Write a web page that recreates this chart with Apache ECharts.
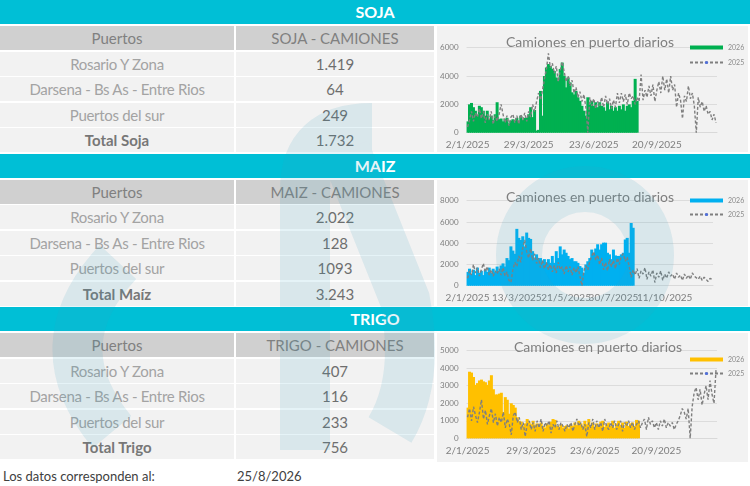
<!DOCTYPE html>
<html>
<head>
<meta charset="utf-8">
<script src="https://cdn.jsdelivr.net/npm/echarts@6/dist/echarts.min.js"></script>
<style>
  html, body { margin: 0; padding: 0; }
  body { width: 750px; height: 486px; position: relative; overflow: hidden; background: #fff; font-family: Lato, "Noto Sans", sans-serif; }
  .abs { position: absolute; box-sizing: border-box; white-space: nowrap; text-align: center; }
  .banner { background: #00bfd6; color: #fff; font-weight: 700; font-size: 16px; }
  .head { background: #d0d0d0; color: #808080; font-size: 15px; }
  .cell { background: #f2f2f2; font-size: 15px; }
  .lbl { color: #a3a3a3; letter-spacing: -0.3px; }
  .val { color: #6e6e6e; }
  .tot { color: #777; font-weight: 700; }
  .chart { position: absolute; left: 437px; width: 311px; }
  .foot { position: absolute; top: 468px; font-size: 13px; color: #404040; }
</style>
</head>
<body>
<script>
// tabla
const secciones = ['SOJA', 'MAIZ', 'TRIGO'];
const puertos = ['Rosario Y Zona', 'Darsena - Bs As - Entre Rios', 'Puertos del sur'];
const totales = ['Total Soja', 'Total Maíz', 'Total Trigo'];
const sojaCamiones = ['1.419', '64', '249', '1.732'];
const maizCamiones = ['2.022', '128', '1093', '3.243'];
const trigoCamiones = ['407', '116', '233', '756'];
const fechaDatos = '25/8/2026';

// series diarias (camiones en puerto)
const sojaTicks = ['2/1/2025', '29/3/2025', '23/6/2025', '20/9/2025'];
const sojaTickIdx = [0, 31, 64, 96];
const soja2026 = [
  800, 2000, 2100, 1800, 1550, 1200, 1900, 1800, 1550, 1200,
  1550, 950, 1200, 900, 1300, 2150, 950, 1000, 800, 950,
  1050, 650, 850, 950, 850, 1050, 800, 1200, 900, 1050,
  1050, 1300, 1800, 1100, 1600, 150, 200, 2950, 1200, 4000,
  4600, 4850, 4700, 4500, 4350, 3900, 3650, 4500, 4950, 4000,
  3200, 3900, 3550, 2850, 2700, 2950, 2500, 2250, 1900, 1550,
  1200, 2500, 2000, 2250, 1900, 2150, 1800, 2150, 1900, 1800,
  1550, 2150, 1650, 1900, 1550, 1800, 1550, 1900, 1650, 2000,
  1550, 1900, 2000, 1800, 2250, 3800, 2250
];
const soja2025 = [
  400, 900, 1500, 800, 1400, 1100, 1700, 1000, 1500, 700,
  1300, 900, 1500, 600, 1200, 800, 1300, 2000, 1300, 700,
  1200, 500, 1100, 1300, 700, 1200, 600, 1300, 900, 1400,
  800, 1500, 1100, 2000, 1500, 2200, 2800, 2300, 3000, 3800,
  4500, 5600, 4600, 4900, 4200, 4700, 3600, 4400, 5000, 4300,
  3600, 4000, 3300, 3700, 2800, 3200, 2500, 2900, 2200, 2700,
  1800, 0, 2500, 1900, 2400, 1700, 2200, 1900, 2500, 1800,
  2600, 2000, 2400, 1700, 2300, 1800, 2800, 2100, 2800, 2200,
  2700, 2000, 2800, 2400, 2600, 2000, 2500, 2200, 4100, 2300,
  3000, 2500, 3300, 2600, 3400, 2200, 3000, 3600, 2800, 4000,
  3000, 3800, 2800, 4000, 3000, 3400, 1800, 2800, 2300, 1000,
  2600, 2200, 3300, 2400, 2800, 1900, 0, 2500, 1800, 2200,
  1500, 1900, 1300, 1500, 900, 1300, 700
];

const maizTicks = ['2/1/2025', '13/3/2025', '21/5/2025', '30/7/2025', '11/10/2025'];
const maizTickIdx = [0, 25, 50, 74, 100];
const maiz2026 = [
  1300, 1600, 1100, 1500, 1000, 1700, 1200, 1400, 1000, 1500,
  1300, 1700, 1200, 1600, 1300, 1800, 1400, 1900, 2100, 1800,
  2600, 2400, 3700, 3300, 3000, 5350, 4500, 4300, 4650, 3700,
  5000, 4500, 4400, 3250, 2600, 2950, 2500, 2600, 2300, 2500,
  2150, 2500, 2150, 2800, 2150, 3250, 2600, 3700, 2950, 3400,
  3100, 2800, 2500, 2600, 2300, 2300, 2150, 1850, 1700, 1200,
  2000, 2300, 2600, 3400, 3100, 3500, 3900, 3400, 3900, 4050,
  4050, 3100, 2950, 2500, 3400, 2850, 2800, 2800, 2950, 3100,
  4350, 4500, 3100, 5900, 5450
];
const maiz2025 = [
  700, 1400, 1000, 2000, 1200, 1700, 900, 1500, 2100, 1300,
  1800, 1000, 1500, 900, 1400, 1100, 1600, 1000, 1700, 900,
  1300, 500, 300, 1500, 2200, 1800, 2800, 2200, 3600, 4300,
  3200, 2600, 3500, 2400, 3000, 2100, 2600, 1700, 2400, 1600,
  2200, 1500, 2000, 1300, 1900, 1200, 2200, 1500, 1800, 1100,
  1900, 1300, 1800, 1000, 1700, 1200, 1800, 900, 0, 1400,
  1900, 1500, 2300, 2800, 3200, 2400, 2900, 2000, 2600, 1500,
  2200, 1400, 2500, 1800, 2400, 1600, 2600, 2000, 2800, 3000,
  2300, 2700, 1800, 800, 1500, 1000, 1600, 700, 1400, 1100,
  1700, 600, 1300, 900, 1500, 300, 1200, 800, 1400, 500,
  1100, 700, 1300, 900, 1100, 600, 1200, 800, 1000, 500,
  1100, 700, 1000, 600, 1200, 900, 1000, 600, 900, 500,
  800, 600, 400, 700, 600
];

const trigoTicks = ['2/1/2025', '29/3/2025', '23/6/2025', '20/9/2025'];
const trigoTickIdx = [0, 32, 64, 95];
const trigo2026 = [
  1750, 3800, 3750, 3500, 3050, 3150, 3300, 3350, 3250, 3200,
  3050, 3300, 3600, 2800, 2500, 2500, 2550, 2600, 1500, 2350,
  2200, 1400, 2000, 1900, 1750, 1200, 1000, 950, 700, 850,
  1100, 900, 800, 1000, 750, 850, 650, 900, 700, 600,
  850, 750, 950, 1100, 1050, 700, 650, 800, 600, 700,
  750, 550, 800, 700, 900, 750, 1000, 850, 700, 1000,
  800, 1100, 700, 900, 650, 850, 700, 950, 1000, 650,
  800, 900, 700, 1000, 600, 850, 1000, 750, 900, 600,
  950, 700, 850, 900, 700, 1050, 1000
];
const trigo2025 = [
  1200, 1700, 1000, 1800, 1300, 900, 1500, 2200, 1100, 1600,
  800, 1300, 1700, 900, 1400, 700, 1200, 900, 1500, 600,
  1100, 800, 200, 1300, 1500, 900, 1200, 500, 900, 100,
  800, 1000, 500, 900, 400, 1000, 600, 1100, 400, 900,
  700, 1000, 300, 800, 600, 1000, 500, 900, 700, 400,
  800, 600, 900, 400, 800, 1100, 700, 900, 500, 800,
  100, 900, 600, 1100, 500, 1000, 600, 900, 400, 1100,
  700, 500, 900, 600, 1000, 500, 800, 1000, 400, 900,
  700, 1000, 600, 900, 500, 800, 1000, 600, 900, 1100,
  500, 1200, 800, 1000, 600, 900, 500, 1000, 700, 1100,
  600, 900, 700, 900, 500, 800, 1000, 1300, 1700, 1500,
  1100, 1700, 0, 1800, 2600, 2900, 2200, 2800, 1900, 2500,
  3000, 2200, 3300, 2500, 2000, 3900
];

const secTop = [0, 153.5, 307];
const valores = [sojaCamiones, maizCamiones, trigoCamiones];

function box(cls, left, top, width, height, text) {
    const d = document.createElement('div');
    d.className = 'abs ' + cls;
    d.style.left = left + 'px';
    d.style.top = top + 'px';
    d.style.width = width + 'px';
    d.style.height = height + 'px';
    d.style.lineHeight = height + 'px';
    d.textContent = text;
    document.body.appendChild(d);
    return d;
}

secciones.forEach((nombre, s) => {
    const t = secTop[s];
    box('banner', 0, t, 750, 24, nombre);
    box('head', 0, t + 26, 234, 24, 'Puertos');
    box('head', 236, t + 26, 198, 24, nombre + ' - CAMIONES');
    for (let k = 0; k < 4; k++) {
        const y = t + 51.5 + 25.6 * k;
        const etiqueta = k < 3 ? puertos[k] : totales[s];
        box('cell ' + (k < 3 ? 'lbl' : 'tot'), 0, y, 234, 24, etiqueta);
        box('cell val', 236, y, 198, 24, valores[s][k]);
    }
});

const f1 = document.createElement('div');
f1.className = 'foot'; f1.style.left = '3px'; f1.textContent = 'Los datos corresponden al:';
document.body.appendChild(f1);
const f2 = document.createElement('div');
f2.className = 'foot'; f2.style.left = '237px'; f2.textContent = fechaDatos;
document.body.appendChild(f2);

// graficos
function categorias(n, ticks, idx) {
    const c = [];
    for (let i = 0; i < n; i++) c.push('');
    idx.forEach((p, k) => { c[p] = ticks[k]; });
    return c;
}

function grafico(cfg) {
    const div = document.createElement('div');
    div.className = 'chart';
    div.style.top = cfg.top + 'px';
    div.style.height = cfg.height + 'px';
    document.body.appendChild(div);
    const chart = echarts.init(div);
    chart.setOption({
        animation: false,
        backgroundColor: '#f2f2f2',
        title: {
            text: 'Camiones en puerto diarios',
            left: cfg.titleLeft, top: cfg.titleTop,
            textStyle: { color: '#7f7f7f', fontSize: 14, fontWeight: 'normal', fontFamily: 'Lato' }
        },
        legend: {
            orient: 'vertical', left: 247, top: cfg.legendTop,
            itemWidth: 33, itemHeight: 4, itemGap: cfg.legendGap,
            textStyle: { color: '#8c8c8c', fontSize: 7, fontFamily: 'Lato' },
            data: [{ name: '2026', icon: 'rect' }, { name: '2025' }]
        },
        grid: { left: cfg.gridLeft, top: cfg.gridTop, width: cfg.line.length * 2, height: cfg.gridHeight },
        xAxis: {
            type: 'category',
            data: categorias(cfg.line.length, cfg.ticks, cfg.tickIdx),
            axisTick: { show: false },
            axisLine: { lineStyle: { color: '#d9d9d9' } },
            axisLabel: { interval: 0, color: '#7f7f7f', fontSize: 10, margin: 7, fontFamily: 'Lato' }
        },
        yAxis: {
            type: 'value', min: 0, max: cfg.max, interval: cfg.step,
            splitLine: { lineStyle: { color: '#dcdcdc' } },
            axisLabel: { color: '#7f7f7f', fontSize: 8, margin: 8, fontFamily: 'Lato', formatter: v => String(v) }
        },
        series: [
            {
                name: '2026', type: 'bar', data: cfg.bars,
                barWidth: 3,
                itemStyle: { color: cfg.color }
            },
            {
                name: '2025', type: 'line', data: cfg.line,
                symbol: 'none', z: 5,
                lineStyle: { color: '#7f7f7f', width: 1.4, type: [3, 2] }
            }
        ]
    });
}

grafico({ top: 26, height: 126, titleLeft: 64, titleTop: 4, legendTop: 13, legendGap: 8,
    gridLeft: 26, gridTop: 21.7, gridHeight: 85, max: 6000, step: 2000,
    ticks: sojaTicks, tickIdx: sojaTickIdx, bars: soja2026, line: soja2025, color: '#00b050' });
grafico({ top: 180, height: 126, titleLeft: 64, titleTop: 5, legendTop: 12, legendGap: 7,
    gridLeft: 26, gridTop: 20.7, gridHeight: 85, max: 8000, step: 2000,
    ticks: maizTicks, tickIdx: maizTickIdx, bars: maiz2026, line: maiz2025, color: '#00b0f0' });
grafico({ top: 333, height: 129, titleLeft: 72, titleTop: 2, legendTop: 18, legendGap: 7,
    gridLeft: 28, gridTop: 17.7, gridHeight: 87.6, max: 5000, step: 1000,
    ticks: trigoTicks, tickIdx: trigoTickIdx, bars: trigo2026, line: trigo2025, color: '#ffc000' });
</script>
<svg width="750" height="486" style="position:absolute;left:0;top:0;pointer-events:none;opacity:0.13">
  <g fill="none" stroke="#3c9fbf" stroke-width="50">
    <path d="M118 262 Q40 345 112 432"/>
    <path d="M305 450 L305 190 Q305 128 372 128"/>
    <path d="M345 150 L405 300 Q420 380 390 430"/>
    <circle cx="585" cy="255" r="66" stroke-width="46"/>
  </g>
</svg>
</body>
</html>
